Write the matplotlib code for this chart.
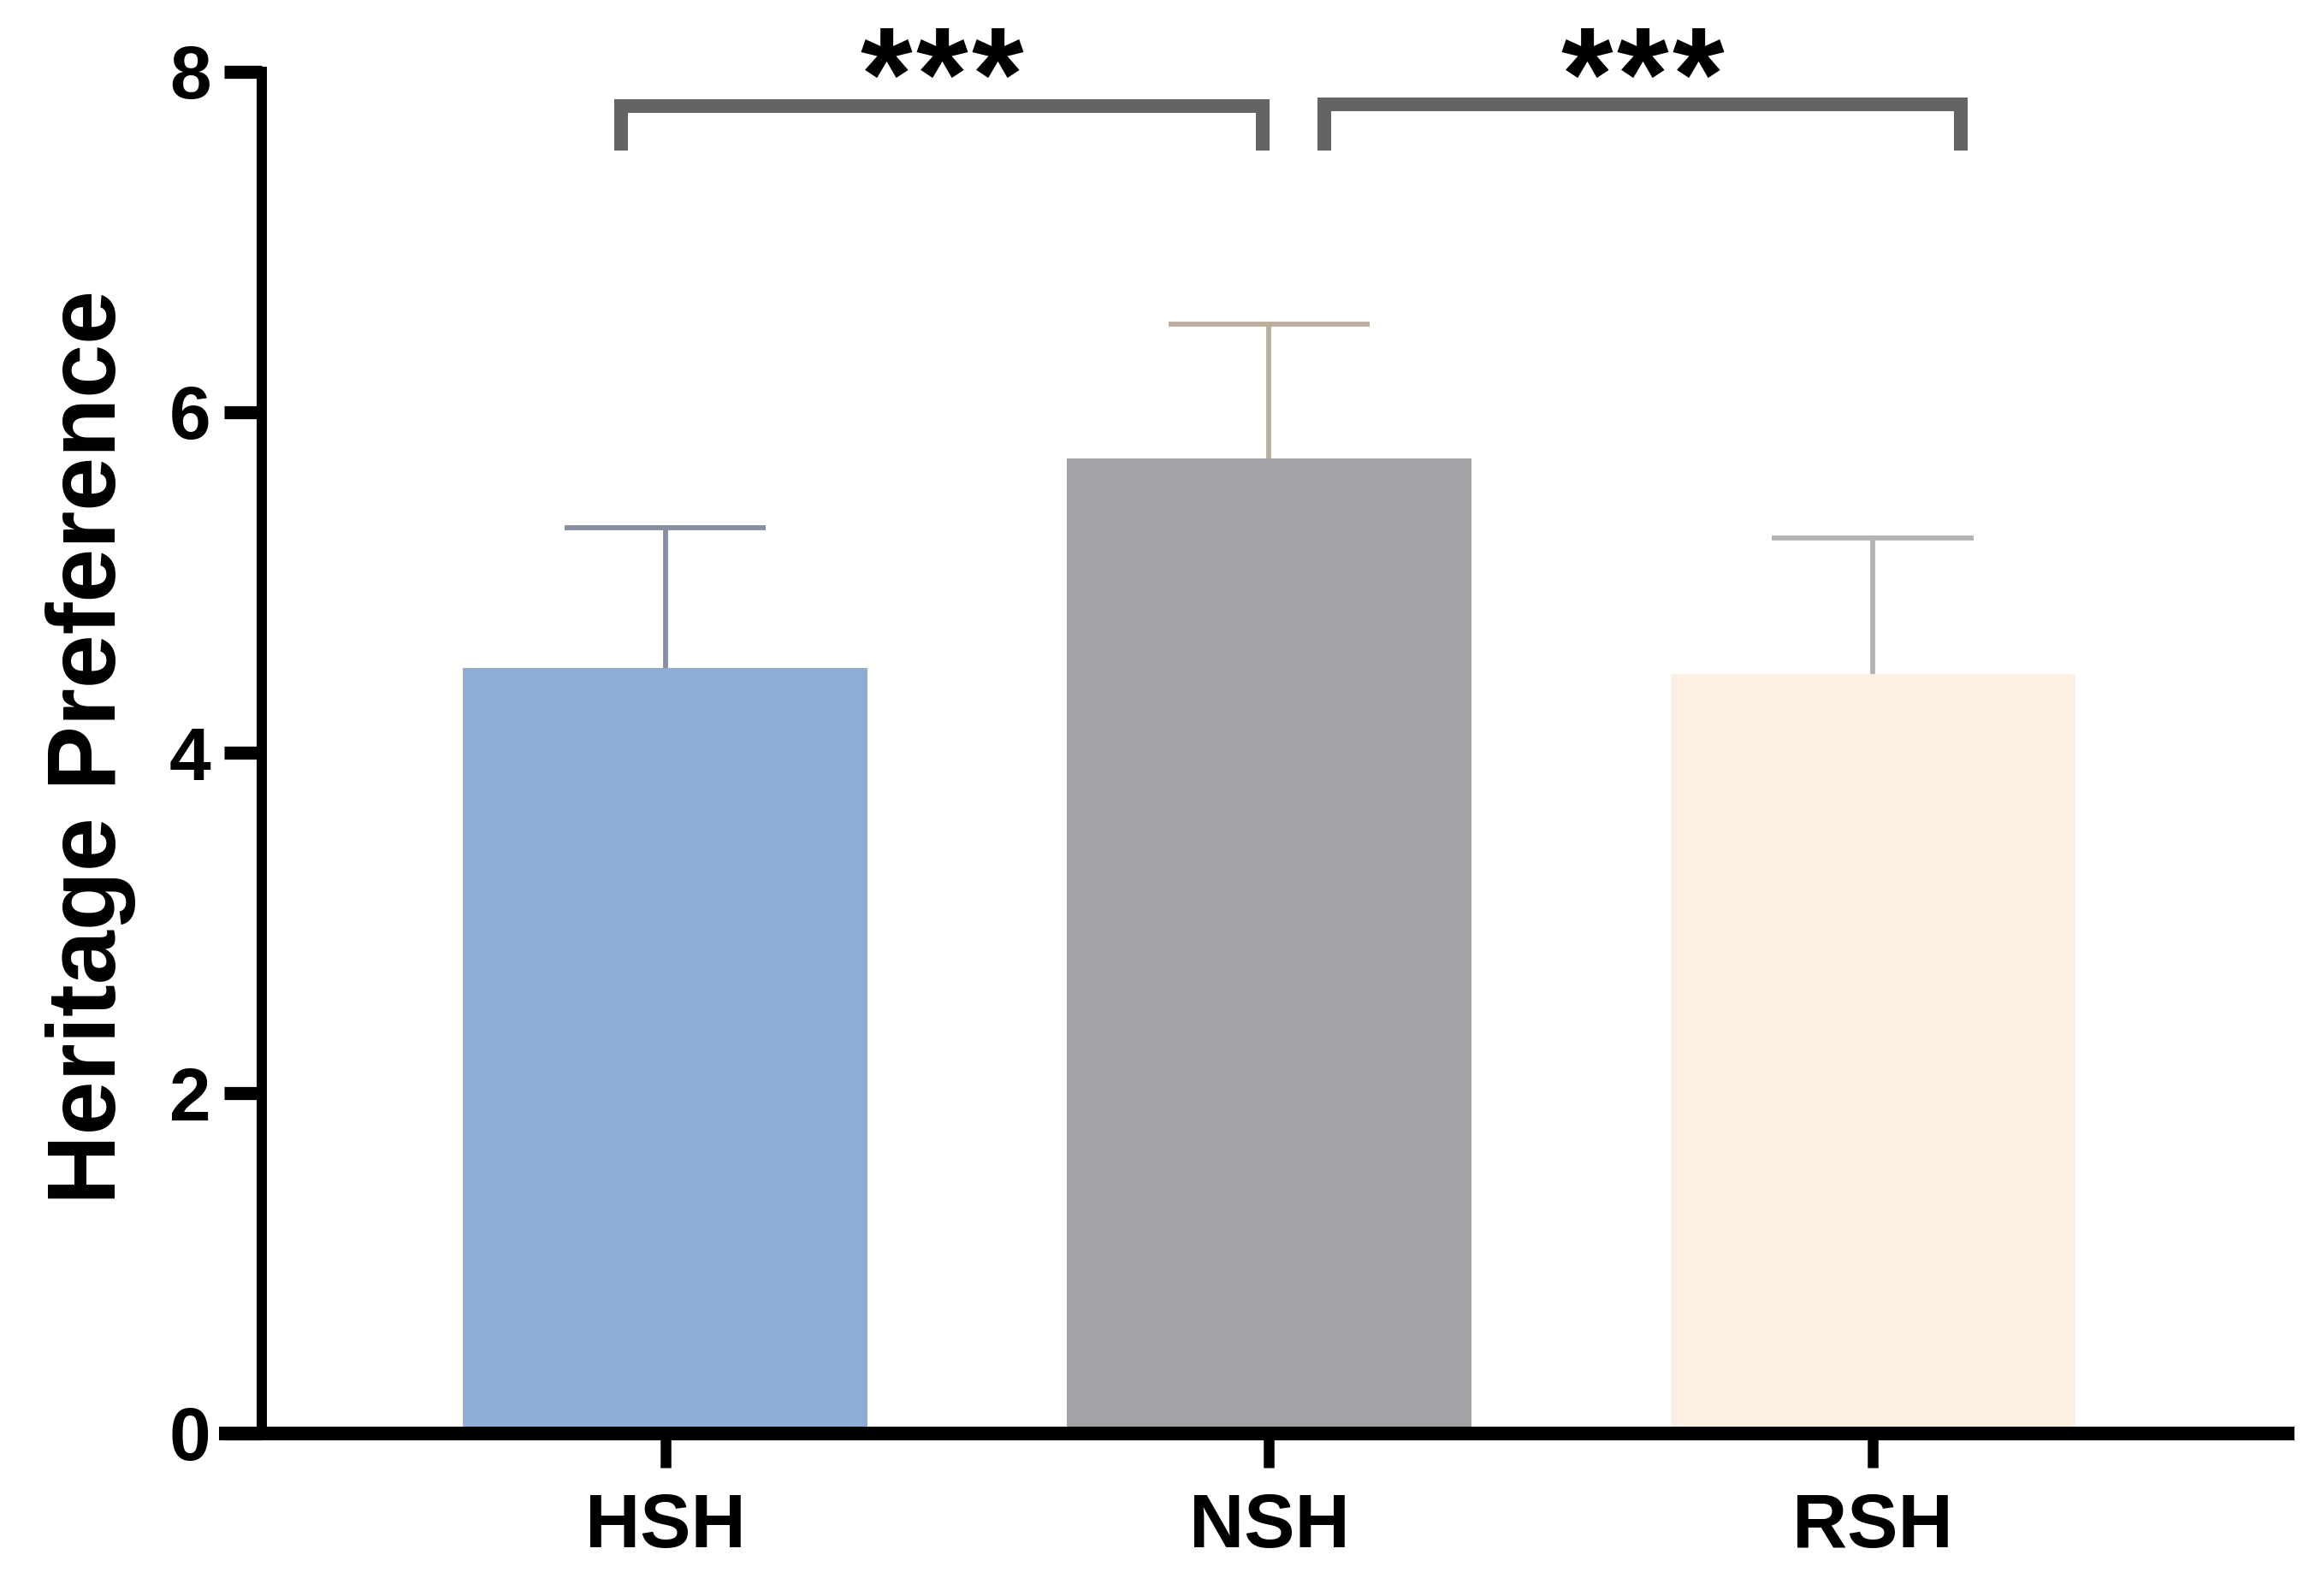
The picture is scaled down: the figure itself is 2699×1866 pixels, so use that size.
import numpy as np
import matplotlib
matplotlib.use("Agg")
import matplotlib.pyplot as plt

plt.rcParams['font.family'] = ['Liberation Sans', 'DejaVu Sans']
plt.rcParams['font.weight'] = 'bold'

# data
groups = ["HSH", "NSH", "RSH"]
means = [4.50, 5.73, 4.46]
sds = [0.82, 0.79, 0.80]
bar_colors = ["#8fadd4", "#a3a2a7", "#fdefe1"]
err_colors = ["#878ea1", "#bcae9c", "#b4b4b4"]

# significance brackets: (left x, right x, top y), label
brackets = [(-0.073, 0.989, 7.80), (1.091, 2.146, 7.81)]
bracket_stars = [3, 3]
leg_bottom = 7.54

fig = plt.figure(figsize=(26.99, 18.66), dpi=100)
ax = fig.add_axes([256/2699, 1-1676/1866, (2682-256)/2699, (1676-84)/1866])

x = np.arange(len(groups))
ax.bar(x, means, width=0.67, color=bar_colors, zorder=2)

# upper error bars only (stem + top cap)
tops = np.array(means) + np.array(sds)
ax.vlines(x, means, tops, colors=err_colors, lw=4.2, zorder=1)
ax.hlines(tops, x - 0.167, x + 0.167, colors=err_colors, lw=4.2, zorder=1)

# brackets and stars
for (x1, x2, yt), n in zip(brackets, bracket_stars):
    ax.plot([x1, x1, x2, x2], [leg_bottom, yt, yt, leg_bottom],
            color="#636363", lw=11.5, solid_joinstyle='miter',
            solid_capstyle='butt', clip_on=False, zorder=3)
    xc = (x1 + x2) / 2
    for k in range(n):
        ax.text(xc + (k - (n - 1) / 2) * 0.092, 7.72, "*", ha='center',
                va='baseline', fontsize=112, fontweight='bold', color='black')

ax.set_xlim(-0.739, 2.698)
ax.set_ylim(0, 8)
ax.set_yticks([0, 2, 4, 6, 8])
ax.set_xticks(x)
ax.set_xticklabels(groups)

ax.spines['top'].set_visible(False)
ax.spines['right'].set_visible(False)
ax.spines['left'].set_position(('data', -0.668))
ax.spines['left'].set_linewidth(8.6)
ax.spines['bottom'].set_linewidth(11.5)
ax.spines['bottom'].set_capstyle('butt')
ax.spines['left'].set_bounds(0, 8)

ax.tick_params(axis='y', length=32, width=11, pad=11, labelsize=63)
ax.tick_params(axis='x', length=29, width=9, pad=20, labelsize=64)
for lab in ax.get_xticklabels() + ax.get_yticklabels():
    lab.set_fontweight('bold')

fig.text(106/2699, 1-873/1866, "Heritage Preference", rotation=90,
         ha='center', va='center', fontsize=81.5, fontweight='bold')

fig.savefig("out.png", dpi=100)
